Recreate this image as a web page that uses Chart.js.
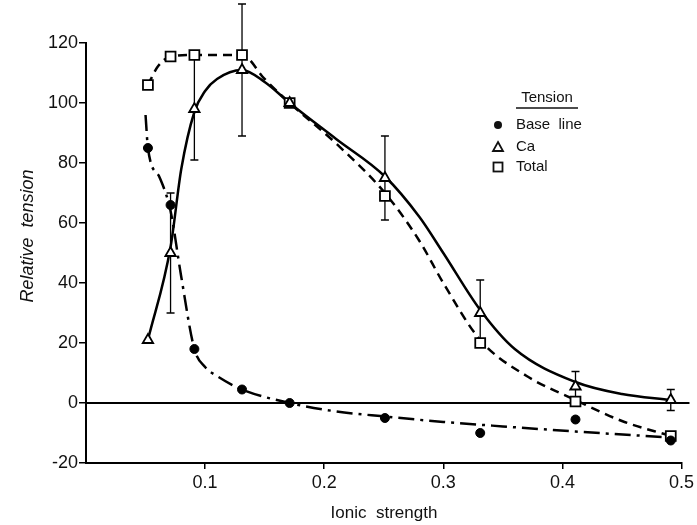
<!DOCTYPE html>
<html lang="en">
<head>
    <meta charset="UTF-8">
    <title>Relative tension vs ionic strength</title>
    <script src="https://cdn.jsdelivr.net/npm/chart.js"></script>
    <style>
        body {
            margin: 0;
            background: #fff;
        }
    </style>
</head>
<body>
    <canvas id="chart" width="697" height="525"></canvas>

    <script>
        // measured points
        const ionic = [0.052, 0.071, 0.091, 0.131, 0.171, 0.251, 0.331, 0.411, 0.491];
        const baseLine = [85, 66, 18, 4.5, 0, -5, -10, -5.5, -12.5];
        const ca = [21, 50, 98, 111, 100, 75, 30, 5.5, 1];
        const caErr = [0, 20, 17, 22, 0, 14, 11, 5, 3.5];
        const total = [106, 115.5, 116, 116, 100, 69, 20, 0.5, -11];

        // hand-drawn fit curves
        const baseCurveX = [0.050, 0.052, 0.062, 0.071, 0.080, 0.091, 0.100, 0.110, 0.131, 0.171, 0.210, 0.251, 0.300, 0.350, 0.411, 0.491];
        const baseCurveY = [96, 85, 75, 64, 42, 18, 12, 9, 4.5, 0, -2.8, -4.5, -6.3, -7.8, -9.5, -11.5];
        const caCurveX = [0.052, 0.071, 0.080, 0.091, 0.100, 0.110, 0.131, 0.150, 0.171, 0.210, 0.251, 0.280, 0.300, 0.331, 0.360, 0.411, 0.450, 0.491];
        const caCurveY = [21, 52, 78, 97, 104, 108, 111, 107, 100, 88, 75.5, 62, 50, 31, 18, 7, 3, 1];
        const totalCurveX = [0.052, 0.060, 0.071, 0.091, 0.131, 0.150, 0.171, 0.210, 0.251, 0.280, 0.300, 0.331, 0.370, 0.411, 0.450, 0.491];
        const totalCurveY = [106, 112, 115.5, 116, 116, 108, 100, 86.5, 70, 54, 40, 21, 9, 1, -6, -11];

        const yTicks = [-20, 0, 20, 40, 60, 80, 100, 120];
        const xTicks = [0.1, 0.2, 0.3, 0.4, 0.5];

        const FONT = "'Liberation Sans', Arial, sans-serif";

        function pts(xs, ys) {
            return xs.map((x, i) => ({x: x, y: ys[i]}));
        }

        const overlay = {
            id: 'overlay',
            beforeDatasetsDraw(chart) {
                const ctx = chart.ctx;
                const xs = chart.scales.x, ys = chart.scales.y;
                const area = chart.chartArea;
                ctx.save();
                ctx.strokeStyle = '#000';
                // zero line
                ctx.lineWidth = 2;
                const y0 = ys.getPixelForValue(0);
                ctx.beginPath();
                ctx.moveTo(area.left, y0);
                ctx.lineTo(area.right + 8, y0);
                ctx.stroke();
                // error bars on Ca
                ctx.lineWidth = 1.3;
                ionic.forEach((x, i) => {
                    if (!caErr[i]) return;
                    const px = xs.getPixelForValue(x);
                    const lo = ys.getPixelForValue(ca[i] - caErr[i]);
                    const hi = ys.getPixelForValue(ca[i] + caErr[i]);
                    ctx.beginPath();
                    ctx.moveTo(px, lo); ctx.lineTo(px, hi);
                    ctx.moveTo(px - 4, lo); ctx.lineTo(px + 4, lo);
                    ctx.moveTo(px - 4, hi); ctx.lineTo(px + 4, hi);
                    ctx.stroke();
                });
                ctx.restore();
            },
            afterDraw(chart) {
                const ctx = chart.ctx;
                ctx.save();
                ctx.fillStyle = '#111';
                ctx.strokeStyle = '#111';
                // axis titles
                ctx.font = 'italic 18px ' + FONT;
                ctx.textAlign = 'center';
                ctx.textBaseline = 'middle';
                ctx.translate(28, 236);
                ctx.rotate(-Math.PI / 2);
                ctx.fillText('Relative  tension', 0, 0);
                ctx.setTransform(1, 0, 0, 1, 0, 0);
                ctx.font = '17px ' + FONT;
                ctx.fillText('Ionic  strength', 384, 513);

                // legend
                ctx.font = '15px ' + FONT;
                ctx.fillText('Tension', 547, 98);
                ctx.lineWidth = 1.5;
                ctx.beginPath();
                ctx.moveTo(516, 108); ctx.lineTo(578, 108);
                ctx.stroke();
                ctx.textAlign = 'left';
                ctx.fillText('Base  line', 516, 125);
                ctx.fillText('Ca', 516, 147);
                ctx.fillText('Total', 516, 167);

                ctx.lineWidth = 1.8;
                ctx.beginPath();
                ctx.arc(498, 125, 4, 0, Math.PI * 2);
                ctx.fill();
                ctx.beginPath();
                ctx.moveTo(498, 142); ctx.lineTo(503, 151); ctx.lineTo(493, 151);
                ctx.closePath();
                ctx.stroke();
                ctx.strokeRect(493.5, 162.5, 9, 9);
                ctx.restore();
            }
        };

        new Chart(document.getElementById('chart'), {
            type: 'scatter',
            data: {
                datasets: [
                    {
                        label: 'Base line',
                        data: pts(ionic, baseLine),
                        pointStyle: 'circle',
                        pointRadius: 4.5,
                        backgroundColor: '#000',
                        borderColor: '#000',
                        showLine: false
                    },
                    {
                        label: 'Ca',
                        data: pts(ionic, ca),
                        pointStyle: 'triangle',
                        pointRadius: 6,
                        pointBorderWidth: 1.8,
                        backgroundColor: '#fff',
                        borderColor: '#000',
                        showLine: false
                    },
                    {
                        label: 'Total',
                        data: pts(ionic, total),
                        pointStyle: 'rect',
                        pointRadius: 7,
                        pointBorderWidth: 1.8,
                        backgroundColor: '#fff',
                        borderColor: '#000',
                        showLine: false
                    },
                    {
                        label: 'Ca fit',
                        data: pts(caCurveX, caCurveY),
                        showLine: true,
                        pointRadius: 0,
                        borderColor: '#000',
                        borderWidth: 2.5,
                        cubicInterpolationMode: 'monotone'
                    },
                    {
                        label: 'Total fit',
                        data: pts(totalCurveX, totalCurveY),
                        showLine: true,
                        pointRadius: 0,
                        borderColor: '#000',
                        borderWidth: 2.5,
                        borderDash: [9, 6],
                        cubicInterpolationMode: 'monotone'
                    },
                    {
                        label: 'Base fit',
                        data: pts(baseCurveX, baseCurveY),
                        showLine: true,
                        pointRadius: 0,
                        borderColor: '#000',
                        borderWidth: 2.5,
                        borderDash: [16, 6, 3, 6],
                        cubicInterpolationMode: 'monotone'
                    }
                ]
            },
            options: {
                responsive: false,
                animation: false,
                devicePixelRatio: 1,
                layout: { padding: { top: 43, right: 15, left: 0, bottom: 0 } },
                plugins: {
                    legend: { display: false },
                    tooltip: { enabled: false }
                },
                scales: {
                    x: {
                        type: 'linear',
                        min: 0,
                        max: 0.5,
                        afterBuildTicks: s => { s.ticks = [0].concat(xTicks).map(v => ({value: v})); },
                        afterFit: s => { s.height = 62; },
                        ticks: {
                            color: '#111',
                            font: { family: FONT, size: 18 },
                            padding: 3,
                            maxRotation: 0,
                            callback: v => v === 0 ? '' : v.toFixed(1)
                        },
                        grid: {
                            drawOnChartArea: false,
                            tickLength: 6,
                            lineWidth: 1.5,
                            color: c => c.tick && c.tick.value === 0 ? 'rgba(0,0,0,0)' : '#000'
                        },
                        border: { display: true, color: '#000', width: 2 }
                    },
                    y: {
                        min: -20,
                        max: 120,
                        afterBuildTicks: s => { s.ticks = yTicks.map(v => ({value: v})); },
                        afterFit: s => { s.width = 86; },
                        ticks: {
                            color: '#111',
                            font: { family: FONT, size: 18 },
                            padding: 1
                        },
                        grid: {
                            drawOnChartArea: false,
                            tickLength: 7,
                            lineWidth: 1.5,
                            color: '#000'
                        },
                        border: { display: true, color: '#000', width: 2 }
                    }
                }
            },
            plugins: [overlay]
        });
    </script>
</body>
</html>
